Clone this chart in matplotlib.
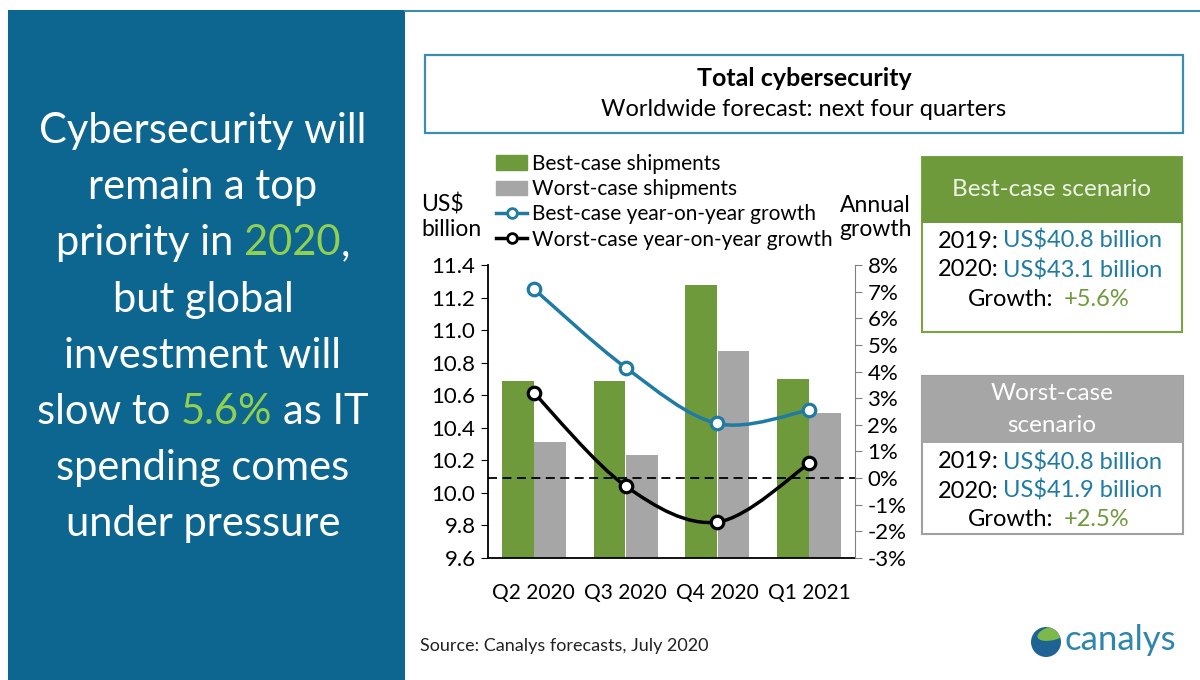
import numpy as np
import matplotlib.pyplot as plt
from matplotlib.patches import Rectangle, PathPatch, Circle, Ellipse, Patch
from matplotlib.path import Path
from matplotlib.lines import Line2D

plt.rcParams['font.family'] = ['Lato', 'DejaVu Sans']

# data
quarters = ['Q2 2020', 'Q3 2020', 'Q4 2020', 'Q1 2021']
best_ship = [10.69, 10.69, 11.28, 10.70]
worst_ship = [10.31, 10.23, 10.87, 10.49]
best_growth = [7.1, 4.15, 2.05, 2.55]
worst_growth = [3.2, -0.3, -1.65, 0.55]

best_box = ['US$40.8 billion', 'US$43.1 billion', '+5.6%']
worst_box = ['US$40.8 billion', 'US$41.9 billion', '+2.5%']

PANEL = '#0d6690'
GREEN = '#6f9a3c'
GRAY = '#a6a6a6'
BLUE = '#1f7ba3'
LIGHT = '#92d050'

fig = plt.figure(figsize=(12, 6.8), dpi=100)

# background layer in pixel coordinates
bg = fig.add_axes([0, 0, 1, 1])
bg.set_xlim(0, 1200)
bg.set_ylim(680, 0)
bg.axis('off')
bg.set_zorder(0)

bg.add_patch(Rectangle((8, 10), 397, 670, color=PANEL, lw=0))
bg.plot([405, 1200], [10.5, 10.5], color='#3b8db0', lw=1.5)

renderer = fig.canvas.get_renderer()


def width(s, size):
    t = bg.text(0, 0, s, fontsize=size)
    w = t.get_window_extent(renderer).width
    t.remove()
    return w


def colored_line(parts, xc, y, size):
    # parts: list of (text, color); joined with single spaces, centred on xc
    sp = width('a a', size) - width('aa', size)
    ws = [width(p, size) for p, c in parts]
    total = sum(ws) + sp * (len(parts) - 1)
    x = xc - total / 2
    for (p, c), w in zip(parts, ws):
        bg.text(x, y, p, color=c, fontsize=size, ha='left', va='center')
        x += w + sp


# left panel headline
W = 'white'
FS = 30
left_lines = [
    [('Cybersecurity will', W)],
    [('remain a top', W)],
    [('priority in', W), ('2020', LIGHT)],
    [('but global', W)],
    [('investment will', W)],
    [('slow to', W), ('5.6%', LIGHT), ('as IT', W)],
    [('spending comes', W)],
    [('under pressure', W)],
]
for i, parts in enumerate(left_lines):
    y = 131 + i * 56.2
    if parts[-1][0] == '2020':
        sp = width('a a', FS) - width('aa', FS)
        ws = [width(p, FS) for p, c in parts] + [width(',', FS)]
        total = ws[0] + sp + ws[1] + ws[2]
        x = 203 - total / 2
        bg.text(x, y, parts[0][0], color=W, fontsize=FS, va='center')
        bg.text(x + ws[0] + sp, y, '2020', color=LIGHT, fontsize=FS, va='center')
        bg.text(x + ws[0] + sp + ws[1], y, ',', color=W, fontsize=FS, va='center')
    else:
        colored_line(parts, 203, y, FS)

# title box
bg.add_patch(Rectangle((425, 55), 758, 78, fill=False, ec='#3b8db0', lw=1.6))
bg.text(804, 78, 'Total cybersecurity', fontsize=18, fontweight='bold', ha='center', va='center')
bg.text(804, 110, 'Worldwide forecast: next four quarters', fontsize=17, ha='center', va='center')

# axis titles
bg.text(421, 205, 'US$', fontsize=16.5, va='center')
bg.text(421, 229, 'billion', fontsize=16.5, va='center')
bg.text(875, 205, 'Annual', fontsize=16.5, ha='center', va='center')
bg.text(875, 229, 'growth', fontsize=16.5, ha='center', va='center')

# scenario boxes
bg.add_patch(Rectangle((922, 157), 260, 175, fill=False, ec='#7aa344', lw=1.5))
bg.add_patch(Rectangle((922, 157), 260, 66, color=GREEN, lw=0))
bg.text(1052, 190, 'Best-case scenario', fontsize=17.5, color='#eef3e6', ha='center', va='center')

bg.add_patch(Rectangle((922, 376), 261, 158, fill=False, ec='#a0a0a0', lw=1.5))
bg.add_patch(Rectangle((922, 376), 261, 67, color=GRAY, lw=0))
bg.text(1052, 394, 'Worst-case', fontsize=17.5, color='white', ha='center', va='center')
bg.text(1052, 426, 'scenario', fontsize=17.5, color='white', ha='center', va='center')

for top, vals in [(241, best_box), (462, worst_box)]:
    for j, yr in enumerate(['2019:', '2020:']):
        y = top + j * 29
        bg.text(999, y, yr, fontsize=17, ha='right', va='center')
        bg.text(1003, y, vals[j], fontsize=17, color=BLUE, ha='left', va='center')
    y = top + 58
    bg.text(1053, y, 'Growth:', fontsize=17, ha='right', va='center')
    bg.text(1064, y, vals[2], fontsize=17, color=GREEN, ha='left', va='center')

# footer
bg.text(420, 646, 'Source: Canalys forecasts, July 2020', fontsize=13, va='center', color='#222222')
globe = Circle((1046, 642), 15, color='#1d6394', lw=0)
bg.add_patch(globe)
swoosh = Ellipse((1053, 633), 32, 14, angle=-15, color='#7cb84a', lw=0)
bg.add_patch(swoosh)
swoosh.set_clip_path(globe)
bg.text(1064, 640, 'canalys', fontsize=25, color='#2e86ad', va='center')

# main chart
ax = fig.add_axes([488 / 1200, 122 / 680, 367 / 1200, 293 / 680])
ax.set_zorder(2)
ax.patch.set_alpha(0)
x = np.arange(len(quarters))
ax.bar(x - 0.175, best_ship, 0.345, color=GREEN, zorder=2)
ax.bar(x + 0.175, worst_ship, 0.345, color=GRAY, zorder=2)
ax.set_xlim(-0.5, 3.5)
ax.set_ylim(9.6, 11.4)
yt = np.arange(9.6, 11.41, 0.2)
ax.set_yticks(yt, [f'{v:.1f}' for v in yt])
ax.set_xticks(x, quarters)
ax.tick_params(axis='x', length=0, pad=18, labelsize=15)
ax.tick_params(axis='y', direction='out', length=5, labelsize=16, pad=4)
ax.spines['top'].set_visible(False)
ax.spines['right'].set_visible(False)
ax.spines['left'].set_linewidth(1.3)
ax.spines['bottom'].set_linewidth(1.3)

ax2 = ax.twinx()
ax2.set_ylim(-3, 8)
ax2.set_yticks(range(-3, 9), [f'{v}%' for v in range(-3, 9)])
ax2.tick_params(axis='y', direction='out', length=5, labelsize=16, pad=4, color='#808080')
for s in ['top', 'left', 'bottom']:
    ax2.spines[s].set_visible(False)
ax2.spines['right'].set_color('#808080')
ax2.axhline(0, color='black', ls=(0, (5, 3)), lw=1.3, zorder=1)


def smooth(xs, ys):
    # Catmull-Rom curve drawn as cubic Bezier segments
    p = np.column_stack([xs, ys]).astype(float)
    q = np.vstack([p[0], p, p[-1]])
    verts = [p[0]]
    codes = [Path.MOVETO]
    for i in range(len(p) - 1):
        c1 = q[i + 1] + (q[i + 2] - q[i]) / 6
        c2 = q[i + 2] - (q[i + 3] - q[i + 1]) / 6
        verts += [c1, c2, q[i + 2]]
        codes += [Path.CURVE4] * 3
    return Path(verts, codes)


for vals, col in [(best_growth, BLUE), (worst_growth, 'black')]:
    ax2.add_patch(PathPatch(smooth(x, vals), fill=False, ec=col, lw=2.5, zorder=3))
    ax2.plot(x, vals, 'o', ms=9, mfc='white', mec=col, mew=2.3, zorder=4)

handles = [
    Patch(color=GREEN),
    Patch(color=GRAY),
    Line2D([], [], color=BLUE, lw=2.5, marker='o', ms=7, mfc='white', mec=BLUE, mew=2),
    Line2D([], [], color='black', lw=2.5, marker='o', ms=7, mfc='white', mec='black', mew=2),
]
labels = ['Best-case shipments', 'Worst-case shipments',
          'Best-case year-on-year growth', 'Worst-case year-on-year growth']
fig.legend(handles, labels, loc='upper left', bbox_to_anchor=(496 / 1200, 1 - 154 / 680),
           frameon=False, fontsize=15, handlelength=1.5, labelspacing=0.25,
           handletextpad=0.25, borderaxespad=0, borderpad=0)

fig.savefig('out.png', dpi=100)
